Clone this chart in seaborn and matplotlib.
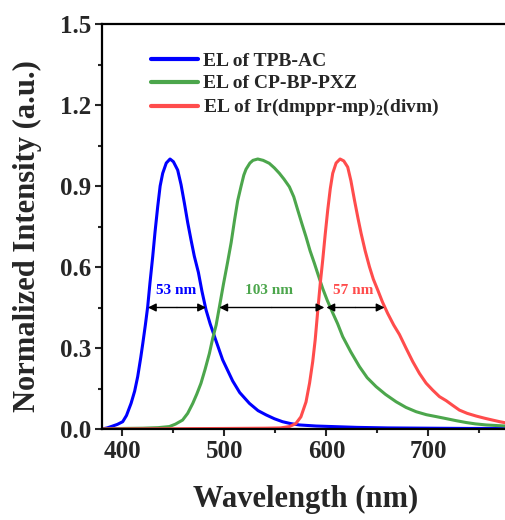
import numpy as np
import pandas as pd
import matplotlib
matplotlib.use("Agg")
import matplotlib.pyplot as plt
import seaborn as sns

# ---------------- data ----------------
blue_wl = [380, 385, 390.5, 395, 400.3, 404, 408.5, 412, 415, 418, 420, 422.5, 424.8, 427, 429.7,
           432, 434.6, 437, 439.5, 443, 446.7, 450, 454.2, 457.5, 460.8, 464, 467.3, 470.5, 474.5,
           478, 482, 486, 491, 498.3, 508.1, 515, 524.5, 533, 541, 549, 557, 565, 573.5, 590,
           606, 630, 660, 700, 740, 780]
blue_I = [0.0, 0.004, 0.011, 0.017, 0.027, 0.05, 0.095, 0.14, 0.194, 0.265, 0.317, 0.385, 0.453, 0.54, 0.638,
          0.73, 0.823, 0.9, 0.947, 0.985, 1.0, 0.99, 0.959, 0.905, 0.836, 0.765, 0.70, 0.64, 0.58,
          0.51, 0.441, 0.39, 0.335, 0.256, 0.178, 0.135, 0.095, 0.068, 0.052, 0.038, 0.027, 0.02, 0.015, 0.011,
          0.009, 0.006, 0.004, 0.003, 0.002, 0.002]

green_wl = [380, 400, 420, 435, 446, 452, 459, 464, 469, 473, 477, 481, 485.3, 488.5, 491.9, 495,
            499, 503, 506.6, 510, 513, 516.4, 519, 521.2, 525, 528, 532.7, 538, 544, 549, 553.9,
            558.5, 563.7, 568, 571.9, 576, 580, 584, 588.2, 592, 596.4, 601, 606.2, 611, 616, 624,
            632.4, 640, 648.7, 658, 668.3, 678, 688, 698, 707.5, 718, 727, 737, 746, 756.6, 766, 775.5, 780]
green_I = [0.0, 0.002, 0.003, 0.005, 0.009, 0.018, 0.033, 0.058, 0.095, 0.13, 0.169, 0.22, 0.28, 0.335, 0.385, 0.45,
           0.535, 0.615, 0.69, 0.775, 0.845, 0.90, 0.94, 0.962, 0.985, 0.995, 1.0, 0.995, 0.984, 0.967, 0.947,
           0.925, 0.897, 0.86, 0.811, 0.76, 0.712, 0.66, 0.614, 0.57, 0.52, 0.475, 0.43, 0.39, 0.342, 0.285,
           0.231, 0.19, 0.157, 0.128, 0.101, 0.08, 0.064, 0.053, 0.046, 0.038, 0.031, 0.024, 0.019, 0.015, 0.013, 0.011, 0.011]

red_wl = [380, 450, 500, 540, 555, 563.7, 570, 575, 580, 583.5, 586.6, 589, 591.8, 594, 596.4,
          598.8, 601.3, 603.8, 606.2, 609.5, 613.4, 617, 620.9, 624, 627.5, 631, 634, 638, 642.2,
          646, 650.3, 655, 660.1, 666, 671.6, 678, 684.6, 691.2, 697.7, 704.2, 710.8, 717.4, 724,
          730.4, 738, 746.8, 755, 763, 770, 775.5, 780]
red_I = [0.0, 0.001, 0.002, 0.003, 0.004, 0.009, 0.02, 0.045, 0.10, 0.17, 0.25, 0.33, 0.45, 0.54, 0.626,
         0.72, 0.811, 0.89, 0.947, 0.985, 1.0, 0.993, 0.97, 0.92, 0.848, 0.78, 0.725, 0.66, 0.601,
         0.555, 0.515, 0.47, 0.428, 0.385, 0.35, 0.3, 0.25, 0.206, 0.17, 0.144, 0.12, 0.105, 0.087,
         0.07, 0.058, 0.048, 0.04, 0.033, 0.027, 0.023, 0.022]

series_names = ["EL of TPB-AC", "EL of CP-BP-PXZ", "EL of Ir(dmppr-mp)$_\\mathregular{2}$(divm)"]
colors = ["#0000ff", "#4ca64c", "#ff4c4c"]

fwhm_labels = ["53 nm", "103 nm", "57 nm"]
fwhm_spans = [(425, 482), (495, 598), (600, 657)]
fwhm_text_x = [453, 544, 626]

# ---------------- frame ----------------
frames = []
for name, wl, inten in zip(series_names, [blue_wl, green_wl, red_wl], [blue_I, green_I, red_I]):
    frames.append(pd.DataFrame({"wl": wl, "I": inten, "series": name}))
df = pd.concat(frames, ignore_index=True)

sns.set_theme(style="ticks")
plt.rcParams["font.family"] = ["Liberation Serif", "DejaVu Serif"]
plt.rcParams["font.weight"] = "bold"
plt.rcParams["mathtext.fontset"] = "custom"
plt.rcParams["mathtext.rm"] = "Liberation Serif:bold"

fig = plt.figure(figsize=(5.06, 5.20), dpi=100)
ax = fig.add_axes([102 / 506, 1 - 429 / 520, 408 / 506, (429 - 24) / 520])

sns.lineplot(data=df, x="wl", y="I", hue="series", hue_order=series_names,
             palette=colors, linewidth=2.2, ax=ax, sort=False, estimator=None)
for ln in ax.get_lines():
    ln.set_solid_joinstyle("round")

ax.set_xlim(380, 780)
ax.set_ylim(0, 1.5)
ax.set_xticks([400, 500, 600, 700])
ax.set_xticks([450, 550, 650, 750], minor=True)
ax.set_yticks([0.0, 0.3, 0.6, 0.9, 1.2, 1.5])
ax.set_yticklabels(["0.0", "0.3", "0.6", "0.9", "1.2", "1.5"])
ax.set_yticks([0.15, 0.45, 0.75, 1.05, 1.35], minor=True)
ax.tick_params(axis="both", which="major", direction="out", length=5, width=1.5,
               labelsize=18, pad=3)
ax.tick_params(axis="both", which="minor", direction="out", length=3, width=1.5)
for lab in ax.get_xticklabels() + ax.get_yticklabels():
    lab.set_fontweight("bold")
for sp in ax.spines.values():
    sp.set_linewidth(1.6)
    sp.set_color("black")

ax.set_xlabel("Wavelength (nm)", fontsize=22, fontweight="bold", labelpad=16)
ax.set_ylabel("Normalized Intensity (a.u.)", fontsize=22, fontweight="bold")
ax.yaxis.set_label_coords(-0.147, 0.476)

# FWHM arrows
arrow_y = 0.45
for (x0, x1), lab, tx, c in zip(fwhm_spans, fwhm_labels, fwhm_text_x, colors):
    mid = (x0 + x1) / 2
    for end in (x0, x1):
        ax.annotate("", xy=(end, arrow_y), xytext=(mid, arrow_y),
                    arrowprops=dict(arrowstyle="-|>", color="black", lw=1.0,
                                    mutation_scale=12, shrinkA=0, shrinkB=0))
    ax.text(tx, arrow_y + 0.04, lab, color=c, fontsize=11, fontweight="bold",
            ha="center", va="bottom")

leg = ax.legend(loc="upper left", bbox_to_anchor=(0.12, 0.93), frameon=False,
                fontsize=14, handlelength=2.4, handletextpad=0.3, labelspacing=0.25,
                borderaxespad=0, borderpad=0)
for t in leg.get_texts():
    t.set_fontweight("bold")
for h in leg.get_lines():
    h.set_linewidth(3)

fig.savefig("out.png", dpi=100)
